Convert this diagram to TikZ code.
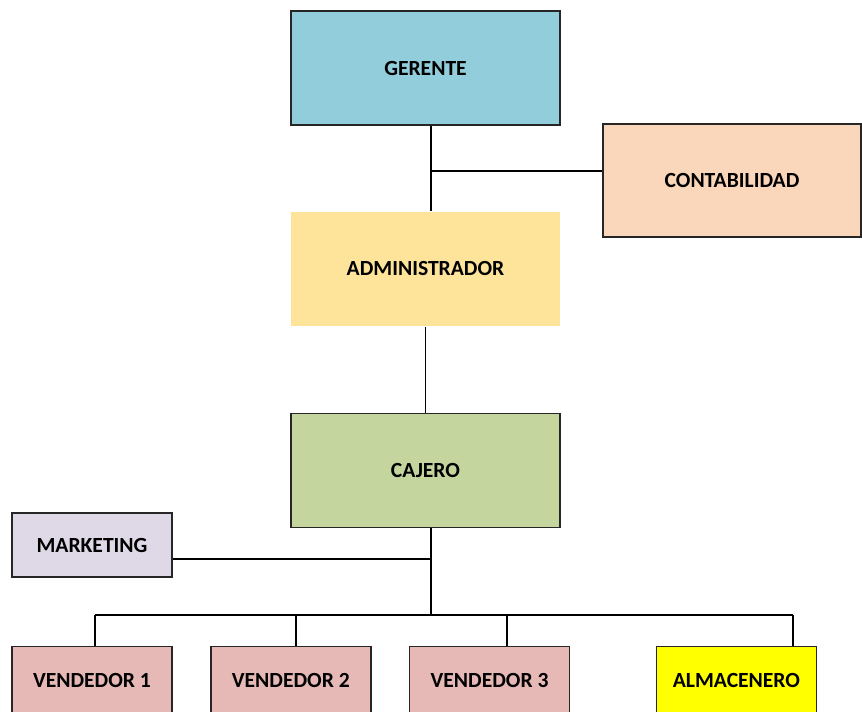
\documentclass[tikz,border=0pt]{standalone}
\usepackage{fontspec}
\setmainfont{Carlito}
\usepackage{xcolor}
\usetikzlibrary{positioning}
\definecolor{gerentecol}{HTML}{92CDDC}
\definecolor{contacol}{HTML}{FAD7BA}
\definecolor{admincol}{HTML}{FEE49A}
\definecolor{cajerocol}{HTML}{C4D69E}
\definecolor{marketcol}{HTML}{DFD9E7}
\definecolor{vendecol}{HTML}{E6B9B7}
\definecolor{almacol}{HTML}{FFFF00}
\tikzstyle{box} = [draw=black!85, line width=1.1pt, inner sep=0pt, font=\bfseries\fontsize{16.2}{19}\selectfont]
\tikzstyle{big} = [box, minimum width=201.75pt, minimum height=85.5pt]
\tikzstyle{small} = [box, minimum width=120pt, minimum height=48pt]
\tikzstyle{link} = [line width=0.8pt, draw=black]

\begin{document}
\begin{tikzpicture}[x=0.75pt, y=-0.75pt]
    \clip (0,0) rectangle (862,711);
    \fill[white] (0,0) rectangle (862,711);

    \node[big, fill=gerentecol] (gerente) at (425.5,68) {GERENTE};
    \node[big, fill=admincol, draw=none] (admin) [below=64pt of gerente] {ADMINISTRADOR};
    \node[big, fill=cajerocol] (cajero) [below=64.5pt of admin] {CAJERO};
    \node[big, fill=contacol, minimum width=193.5pt, minimum height=84.75pt] (conta) at (732,180.5) {CONTABILIDAD};

    \node[small, fill=marketcol] (marketing) at (92,545) {MARKETING};

    \node[small, fill=vendecol, minimum height=51pt, anchor=north] (vend1) at (92,646) {VENDEDOR 1};
    \node[small, fill=vendecol, minimum height=51pt] (vend2) [right=28pt of vend1] {VENDEDOR 2};
    \node[small, fill=vendecol, minimum height=51pt] (vend3) [right=28pt of vend2] {VENDEDOR 3};
    \node[small, fill=almacol, minimum height=51pt] (alma) [right=64pt of vend3] {ALMACENERO};

    % junctions
    \coordinate (jconta) at (431,171);
    \coordinate (jmarket) at (431,559);
    \coordinate (jbus) at (431,615);
    \coordinate (b1) at (95,615);
    \coordinate (b2) at (296,615);
    \coordinate (b3) at (507,615);
    \coordinate (b4) at (793,615);

    \draw[link] (gerente.south -| jconta) -- (admin.north -| jconta);
    \draw[link] (jconta) -- (jconta -| conta.west);
    \draw[link] (admin) -- (cajero);
    \draw[link] (cajero.south -| jbus) -- (jbus);
    \draw[link] (jmarket -| marketing.east) -- (jmarket);
    \draw[link] (b1) -- (b4);
    \foreach \b/\v in {b1/vend1, b2/vend2, b3/vend3, b4/alma}{
      \draw[link] (\b) -- (\b |- \v.north);
    }
\end{tikzpicture}
\end{document}
